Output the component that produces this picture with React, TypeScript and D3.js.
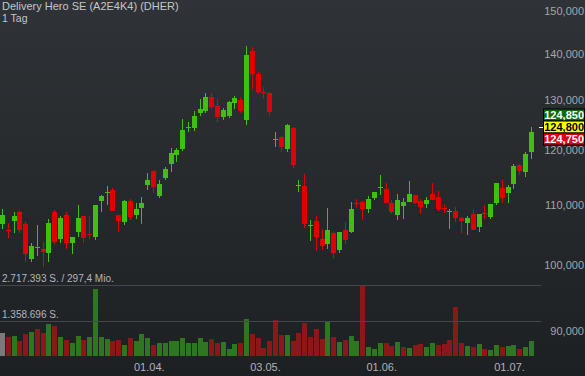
import React from 'react';
import * as d3 from 'd3';

const titleText = 'Delivery Hero SE (A2E4K4) (DHER)';
const periodText = '1 Tag';

// daily OHLC (EUR)
const opens = [
  106.76, 105.65, 107.33, 108.82, 106.76, 101.01, 102.8, 102.6, 101.99, 108.82,
  104.23, 108.25, 103.63, 105.39, 108.13, 105.12, 104.56, 110.79, 112.21, 112.72,
  108.3, 107.16, 110.74, 108.36, 109.55, 113.62, 116.18, 111.64, 114.93, 117.55,
  119.23, 120.31, 124.38, 124.41, 127.43, 127.83, 130.7, 128.85, 126.62, 126.82,
  129.45, 130.06, 126.01, 140.66, 135.55, 131.81, 131.54, 122.03, 122.66, 120.31,
  124.41, 113.47, 113.44, 106.39, 107.28, 104.18, 103.46, 105.22, 102.48, 105.74,
  105.45, 110.34, 110.56, 109.38, 111.33, 112.99, 112.9, 110.35, 108.3, 109.85,
  110.56, 111.82, 110.74, 110.2, 112.0, 111.46, 109.42, 108.73, 108.99, 107.84,
  106.99, 108.48, 106.3, 108.56, 108.01, 110.38, 113.08, 112.18, 113.85, 117.3,
  116.05, 119.79,
];
const highs = [
  109.28, 106.88, 108.77, 109.04, 107.16, 103.63, 106.54, 103.69, 107.62, 109.16,
  108.13, 108.77, 104.6, 110.0, 108.2, 108.13, 110.1, 111.82, 113.44, 113.02,
  108.35, 110.92, 111.1, 110.38, 111.4, 115.81, 116.37, 114.51, 116.99, 120.45,
  120.57, 126.21, 125.55, 127.83, 130.21, 131.48, 131.48, 130.21, 128.44, 129.86,
  130.91, 130.7, 141.8, 141.5, 136.17, 132.81, 131.81, 123.63, 122.91, 125.2,
  124.61, 114.51, 115.56, 107.4, 108.18, 105.91, 109.45, 105.51, 105.4, 107.05,
  110.5, 111.04, 110.74, 111.64, 112.4, 115.43, 114.03, 110.92, 112.0, 111.28,
  114.33, 111.85, 111.1, 111.46, 113.97, 112.48, 110.2, 109.33, 109.67, 107.96,
  108.13, 109.28, 108.5, 109.97, 110.25, 114.0, 114.46, 113.62, 117.49, 117.49,
  119.74, 124.61,
];
const lows = [
  105.86, 104.44, 105.17, 105.17, 100.42, 100.52, 101.5, 99.71, 100.52, 103.37,
  103.53, 102.55, 101.83, 104.51, 103.53, 104.23, 104.12, 108.77, 109.97, 108.95,
  105.34, 106.54, 107.45, 107.67, 106.71, 112.72, 112.18, 111.28, 114.51, 115.94,
  117.92, 119.93, 123.57, 123.89, 126.76, 127.43, 128.24, 125.55, 126.01, 126.48,
  128.18, 127.43, 125.0, 132.38, 131.27, 130.27, 126.82, 120.76, 119.79, 119.79,
  116.74, 112.41, 106.03, 103.95, 102.22, 102.48, 102.55, 101.08, 101.9, 103.37,
  105.27, 109.55, 107.4, 108.7, 110.86, 111.87, 110.35, 108.53, 107.45, 107.67,
  110.5, 110.14, 108.42, 109.55, 110.9, 108.99, 108.6, 105.86, 107.11, 105.17,
  104.84, 105.68, 105.34, 107.62, 107.67, 109.97, 110.43, 110.32, 112.84, 115.43,
  115.11, 118.48,
];
const closes = [
  108.3, 105.48, 108.13, 105.79, 101.83, 103.09, 102.96, 102.16, 106.93, 103.79,
  107.79, 103.58, 104.56, 107.79, 104.44, 104.95, 110.0, 111.64, 112.39, 108.99,
  107.33, 110.74, 108.01, 109.33, 110.38, 114.51, 113.31, 113.79, 116.55, 119.55,
  120.12, 124.02, 124.57, 126.82, 128.24, 130.7, 128.64, 126.62, 128.04, 129.66,
  130.49, 127.83, 139.76, 135.55, 131.75, 131.69, 127.63, 122.23, 120.7, 125.0,
  117.36, 113.65, 106.82, 106.56, 104.61, 103.14, 105.74, 101.99, 105.39, 104.12,
  109.33, 110.15, 109.38, 111.1, 112.36, 113.17, 110.38, 108.87, 110.92, 110.56,
  112.0, 110.38, 109.67, 110.88, 110.96, 109.33, 109.25, 108.9, 107.84, 107.33,
  107.84, 105.79, 108.48, 108.39, 110.2, 113.97, 111.33, 113.26, 117.17, 116.18,
  119.36, 123.63,
];
// daily volume (million shares)
const volumes = [
  0.87, 0.74, 0.76, 0.58, 0.83, 0.93, 1.02, 0.88, 1.24, 1.16,
  0.71, 0.63, 0.48, 0.75, 0.61, 0.74, 2.55, 0.72, 0.65, 0.56,
  0.63, 0.43, 0.69, 0.57, 0.84, 0.69, 0.44, 0.49, 0.48, 0.57,
  0.57, 0.67, 0.49, 0.48, 0.7, 0.54, 0.65, 0.5, 0.52, 0.26,
  0.45, 0.49, 1.42, 0.85, 0.69, 0.32, 0.58, 1.36, 0.82, 0.79,
  0.57, 0.88, 1.27, 0.74, 1.02, 0.66, 1.31, 0.71, 0.53, 0.61,
  0.75, 0.57, 2.717393, 0.34, 0.26, 0.49, 0.49, 0.4, 0.53, 0.36,
  0.32, 0.41, 0.47, 0.34, 0.5, 0.41, 0.47, 0.61, 1.88, 0.5,
  0.39, 0.34, 0.47, 0.25, 0.23, 0.43, 0.35, 0.4, 0.44, 0.26,
  0.34, 0.56,
];

const priceTicks = [90, 100, 110, 120, 130, 140, 150];
const dateTickIndex = [25, 45, 65, 87];
const dateTickLabels = ['01.04.', '03.05.', '01.06.', '01.07.'];
const volumeLineLabels = ['2.717.393 S. / 297,4 Mio.', '1.358.696 S.'];
const quoteValues = [124.85, 124.8, 124.75]; // ask, last, bid

const deLocale = d3.formatLocale({ decimal: ',', thousands: '.', grouping: [3], currency: ['', ' €'] });
const fmtPrice = deLocale.format('.3f');

const W = 585;
const H = 376;
const PLOT_RIGHT = 541;
const FONT = "'Liberation Sans', Arial, Helvetica, sans-serif";

const UP = '#3fbf0e';
const DOWN = '#e00000';
const VOL_UP = '#2e761f';
const VOL_DOWN = '#8a1818';
const VOL_NEUTRAL = '#7a7a7a';

export default function App() {
  const n = closes.length;
  const x = d3.scaleLinear().domain([0, n - 1]).range([2.5, 531.3]);
  const y = d3.scaleLog().domain([90, 150]).range([331, 10.7]);
  const vMax = d3.max(volumes) as number;
  const yVol = d3.scaleLinear().domain([0, vMax]).range([356, 285]);
  const volLines = [vMax, vMax / 2];

  const candles = d3.range(n).map((i) => {
    const left = Math.round(x(i) - 2.5);
    const up = closes[i] >= opens[i];
    const top = y(Math.max(opens[i], closes[i]));
    const bot = y(Math.min(opens[i], closes[i]));
    return {
      i,
      left,
      color: up ? UP : DOWN,
      bodyY: Math.round(top),
      bodyH: Math.max(1, Math.round(bot) - Math.round(top)),
      wickY: Math.round(y(highs[i])),
      wickH: Math.max(1, Math.round(y(lows[i])) - Math.round(y(highs[i]))),
    };
  });

  const volBars = d3.range(n).map((i) => {
    const left = Math.round(x(i) - 2.5);
    let color = VOL_NEUTRAL;
    if (i > 0) color = closes[i] >= closes[i - 1] ? VOL_UP : VOL_DOWN;
    const top = Math.round(yVol(volumes[i]));
    return { i, left, color, top, h: Math.round(yVol(0)) - top };
  });

  const lastY = y(quoteValues[1]) + 1;
  const tagH = 12;
  const tags = [
    { v: quoteValues[0], y: lastY - tagH / 2 - tagH, fill: '#0a6a0a', text: '#ffffff' },
    { v: quoteValues[1], y: lastY - tagH / 2, fill: '#ffff00', text: '#000000' },
    { v: quoteValues[2], y: lastY + tagH / 2, fill: '#e0001a', text: '#ffffff' },
  ];

  return (
    <div style={{ position: 'absolute', left: 0, top: 0 }}>
      <svg width={W} height={H} style={{ display: 'block' }} fontFamily={FONT}>
        <defs>
          <linearGradient id="bg" x1="0" y1="0" x2="0" y2="1">
            <stop offset="0" stopColor="#2f3337" />
            <stop offset="1" stopColor="#1d2023" />
          </linearGradient>
        </defs>
        <rect width={W} height={H} fill="url(#bg)" />

        {/* volume bars */}
        <g shapeRendering="crispEdges">
          {volBars.map((b) => (
            <rect key={'v' + b.i} x={b.left} y={b.top} width={5} height={b.h} fill={b.color} />
          ))}
        </g>

        {/* volume reference lines */}
        {volLines.map((v, k) => (
          <g key={'vl' + k}>
            <line x1={0} x2={PLOT_RIGHT} y1={Math.round(yVol(v)) + 0.5} y2={Math.round(yVol(v)) + 0.5} stroke="#44474b" strokeWidth={1} />
            <text x={2} y={yVol(v) - 3} fontSize={10} fill="#b4b6b8">
              {volumeLineLabels[k]}
            </text>
          </g>
        ))}

        {/* candles */}
        <g shapeRendering="crispEdges">
          {candles.map((c) => (
            <g key={'c' + c.i}>
              <rect x={c.left + 2} y={c.wickY} width={1} height={c.wickH} fill={c.color} />
              <rect x={c.left} y={c.bodyY} width={5} height={c.bodyH} fill={c.color} />
            </g>
          ))}
        </g>

        {/* title */}
        <text x={2} y={10} fontSize={11} fill="#c4c6c8">{titleText}</text>
        <text x={2} y={22} fontSize={10.5} fill="#c4c6c8">{periodText}</text>

        {/* price axis */}
        {priceTicks.map((t) => (
          <text key={'pt' + t} x={584} y={y(t)} dy="0.35em" textAnchor="end" fontSize={11} fill="#a4a6a8">
            {fmtPrice(t)}
          </text>
        ))}

        {/* date axis */}
        {dateTickIndex.map((idx, k) => (
          <text key={'dt' + k} x={x(idx) + 1.5} y={371} textAnchor="middle" fontSize={11} fill="#b0b2b4">
            {dateTickLabels[k]}
          </text>
        ))}

        {/* last price marker */}
        <line x1={539} x2={543} y1={Math.round(lastY) + 0.5} y2={Math.round(lastY) + 0.5} stroke="#ffffff" strokeWidth={1} />

        {/* quote tags */}
        {tags.map((t, k) => (
          <g key={'tag' + k}>
            <rect x={543.5} y={t.y} width={41} height={tagH} fill={t.fill} stroke="#000" strokeWidth={1} />
            <text x={584} y={t.y + tagH / 2} dy="0.36em" textAnchor="end" fontSize={11} fontWeight="bold" fill={t.text}>
              {fmtPrice(t.v)}
            </text>
          </g>
        ))}
      </svg>
    </div>
  );
}
